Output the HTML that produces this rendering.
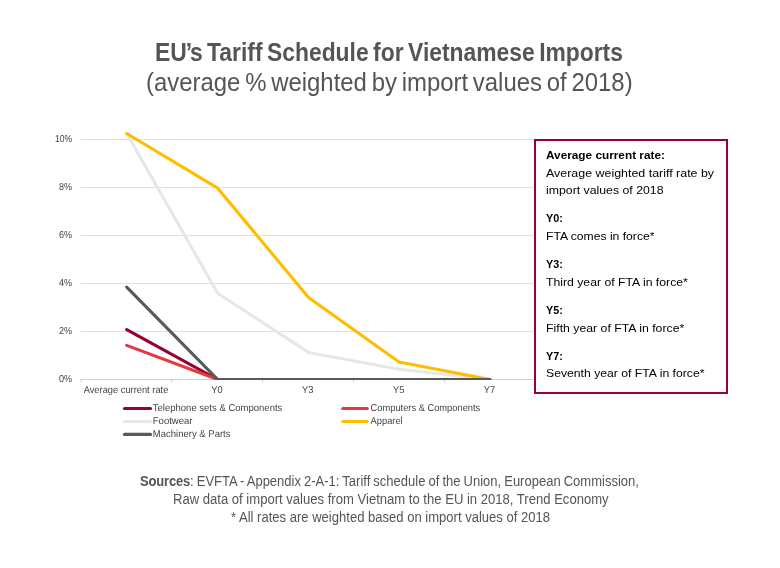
<!DOCTYPE html>
<html>
<head>
<meta charset="utf-8">
<title>EU's Tariff Schedule for Vietnamese Imports</title>
<style>
html,body{margin:0;padding:0;background:#fff;}
body{width:780px;height:568px;position:relative;overflow:hidden;font-family:"Liberation Sans",sans-serif;}
.tx{position:absolute;white-space:nowrap;transform-origin:0 50%;}
#chart{position:absolute;left:0;top:0;}
#box{position:absolute;left:534px;top:139px;width:190px;height:251px;border:2px solid #98002e;background:#fff;}
</style>
</head>
<body>
<svg id="chart" width="780" height="568" viewBox="0 0 780 568">
<g stroke="#e1e1e1" stroke-width="1"><line x1="80.5" x2="533.4" y1="331.50" y2="331.50"/><line x1="80.5" x2="533.4" y1="283.50" y2="283.50"/><line x1="80.5" x2="533.4" y1="235.50" y2="235.50"/><line x1="80.5" x2="533.4" y1="187.50" y2="187.50"/><line x1="80.5" x2="533.4" y1="139.50" y2="139.50"/><line x1="80.5" x2="533.4" y1="379.5" y2="379.5" stroke="#cfcfcf"/><g stroke="#cfcfcf"><line x1="80.9" x2="80.9" y1="379.5" y2="382.7"/><line x1="171.6" x2="171.6" y1="379.5" y2="382.7"/><line x1="262.6" x2="262.6" y1="379.5" y2="382.7"/><line x1="353.6" x2="353.6" y1="379.5" y2="382.7"/><line x1="444.6" x2="444.6" y1="379.5" y2="382.7"/></g></g>
<clipPath id="plot"><rect x="0" y="0" width="780" height="379.9"/></clipPath>
<g fill="none" stroke-width="3.1" stroke-linejoin="round" stroke-linecap="round" clip-path="url(#plot)"><polyline stroke="#98002e" points="126.7,329.6 217.7,379.5"/><polyline stroke="#e5383f" points="126.7,345.4 217.7,379.5"/><polyline stroke="#e6e7e8" points="126.7,133.5 217.7,293.3 308.5,352.4 399.0,369.2 490.0,379.5"/><polyline stroke="#ffbd00" points="126.7,133.5 217.7,188.2 308.5,297.4 399.0,362.0 490.0,379.5"/><polyline stroke="#595959" points="126.7,287.1 217.7,379.5 308.5,379.5 399.0,379.5 490.0,379.5"/></g>
<g text-rendering="geometricPrecision" font-family="Liberation Sans, sans-serif" font-size="9.9" fill="#444">
<g text-anchor="end" font-size="10.1"><text transform="translate(72.1,382) scale(0.9,1)">0%</text><text transform="translate(72.1,334) scale(0.9,1)">2%</text><text transform="translate(72.1,286) scale(0.9,1)">4%</text><text transform="translate(72.1,238) scale(0.9,1)">6%</text><text transform="translate(72.1,190) scale(0.9,1)">8%</text><text transform="translate(72.1,142) scale(0.851,1)">10%</text></g>
<g text-anchor="middle"><text transform="translate(126.0,392.7) scale(0.942,1)">Average current rate</text><text transform="translate(217.0,392.7) scale(0.942,1)">Y0</text><text transform="translate(307.8,392.7) scale(0.942,1)">Y3</text><text transform="translate(398.7,392.7) scale(0.942,1)">Y5</text><text transform="translate(489.5,392.7) scale(0.942,1)">Y7</text></g>
<g><text transform="translate(152.8,410.8) scale(0.963,1)">Telephone sets &amp; Components</text><text transform="translate(370.6,410.8) scale(0.942,1)">Computers &amp; Components</text><text transform="translate(152.8,423.8) scale(0.963,1)">Footwear</text><text transform="translate(370.6,423.8) scale(0.942,1)">Apparel</text><text transform="translate(152.8,436.8) scale(0.963,1)">Machinery &amp; Parts</text></g>
</g>
<g stroke-width="3.2" stroke-linecap="round"><line x1="124.5" x2="150.5" y1="408.5" y2="408.5" stroke="#98002e"/><line x1="342.8" x2="367.2" y1="408.5" y2="408.5" stroke="#e5383f"/><line x1="124.5" x2="150.5" y1="421.5" y2="421.5" stroke="#e6e7e8"/><line x1="342.8" x2="367.2" y1="421.5" y2="421.5" stroke="#ffbd00"/><line x1="124.5" x2="150.5" y1="434.4" y2="434.4" stroke="#595959"/></g>
</svg>
<div id="box">
<div class="tx" id="b1" style="left:10.3px;top:6.99px;font-size:11px;line-height:14px;color:#000;font-weight:bold;transform:scaleX(1.0727)">Average current rate:</div>
<div class="tx" id="b2" style="left:10.3px;top:24.79px;font-size:11px;line-height:14px;color:#000;transform:scaleX(1.1295)">Average weighted tariff rate by</div>
<div class="tx" id="b3" style="left:10.3px;top:42.39px;font-size:11px;line-height:14px;color:#000;transform:scaleX(1.1171)">import values of 2018</div>
<div class="tx" id="b4" style="left:10.3px;top:70.29px;font-size:11px;line-height:14px;color:#000;font-weight:bold;transform:scaleX(0.9824)">Y0:</div>
<div class="tx" id="b5" style="left:10.3px;top:88.19px;font-size:11px;line-height:14px;color:#000;transform:scaleX(1.1041)">FTA comes in force*</div>
<div class="tx" id="b6" style="left:10.3px;top:116.19px;font-size:11px;line-height:14px;color:#000;font-weight:bold;transform:scaleX(0.9824)">Y3:</div>
<div class="tx" id="b7" style="left:10.3px;top:134.09px;font-size:11px;line-height:14px;color:#000;transform:scaleX(1.1117)">Third year of FTA in force*</div>
<div class="tx" id="b8" style="left:10.3px;top:161.99px;font-size:11px;line-height:14px;color:#000;font-weight:bold;transform:scaleX(0.9824)">Y5:</div>
<div class="tx" id="b9" style="left:10.3px;top:179.89px;font-size:11px;line-height:14px;color:#000;transform:scaleX(1.1161)">Fifth year of FTA in force*</div>
<div class="tx" id="b10" style="left:10.3px;top:207.79px;font-size:11px;line-height:14px;color:#000;font-weight:bold;transform:scaleX(0.9824)">Y7:</div>
<div class="tx" id="b11" style="left:10.3px;top:225.19px;font-size:11px;line-height:14px;color:#000;transform:scaleX(1.1091)">Seventh year of FTA in force*</div>
</div>
<div class="tx" id="t1s" style="left:155.1px;top:35.94px;font-size:25px;line-height:32px;color:#555;word-spacing:-2px;font-weight:bold;transform:scaleX(0.9137)">EU<span style='letter-spacing:-2.5px;margin-left:-1px'>’</span>s Tariff Schedule for Vietnamese Imports</div>
<div class="tx" id="t2s" style="left:145.6px;top:66.24px;font-size:25px;line-height:32px;color:#555;word-spacing:-2px;transform:scaleX(0.9569)">(average % weighted by import values of 2018)</div>
<div class="tx" id="s1s" style="left:140.1px;top:471.85px;font-size:14px;line-height:18px;color:#555;word-spacing:-0.6px;transform:scaleX(0.9295)"><b style='letter-spacing:-0.2px'>Sources</b>: EVFTA - Appendix 2-A-1: Tariff schedule of the Union, European Commission,</div>
<div class="tx" id="s2s" style="left:172.5px;top:489.85px;font-size:14px;line-height:18px;color:#555;transform:scaleX(0.9335)">Raw data of import values from Vietnam to the EU in 2018, Trend Economy</div>
<div class="tx" id="s3s" style="left:231.4px;top:507.65px;font-size:14px;line-height:18px;color:#555;transform:scaleX(0.9316)">* All rates are weighted based on import values of 2018</div>
</body>
</html>
